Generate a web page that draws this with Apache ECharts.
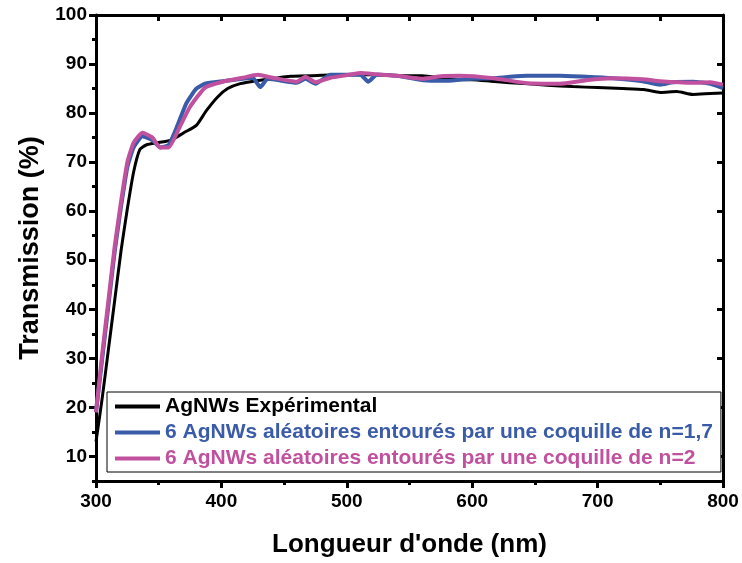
<!DOCTYPE html>
<html>
<head>
<meta charset="utf-8">
<script src="https://cdn.jsdelivr.net/npm/echarts@6/dist/echarts.min.js"></script>
<style>
  html, body { margin: 0; padding: 0; background: #fff; }
  #chart { width: 742px; height: 563px; }
</style>
</head>
<body>
<div id="chart"></div>
<script>
// ---- Data ----
const seriesNames = [
  "AgNWs Expérimental",
  "6 AgNWs aléatoires entourés par une coquille de n=1,7",
  "6 AgNWs aléatoires entourés par une coquille de n=2"
];

const wlExp = [300, 305, 310, 315, 320, 325, 330, 335, 340, 350, 360, 370, 380, 388, 397, 405, 415, 428, 440, 455, 480, 500, 520, 540, 560, 580, 600, 615, 630, 645, 660, 680, 700, 720, 737, 750, 763, 776, 790, 800];
const trExp = [13, 22, 32, 42, 52, 60.5, 68, 72.6, 73.5, 74, 74.5, 76, 77.5, 80.5, 83.3, 85, 86, 86.6, 87, 87.5, 87.7, 87.8, 87.8, 87.6, 87.6, 87.0, 86.8, 86.5, 86.2, 86.0, 85.7, 85.4, 85.2, 85.0, 84.8, 84.2, 84.4, 83.8, 84.0, 84.1];

const wlN17 = [300, 305, 310, 315, 320, 325, 330, 337, 345, 351, 358, 365, 372, 380, 387, 401, 417, 425, 431, 437, 460, 467, 475, 487, 502, 511, 517, 524, 540, 561, 580, 600, 617, 630, 644, 670, 691, 712, 736, 750, 760, 776, 790, 800];
const trN17 = [19, 30, 41, 52, 61, 69, 73, 75.3, 74.5, 73, 73.5, 77.5, 82, 85, 86, 86.5, 87.0, 87.2, 85.3, 87.0, 86.2, 87.0, 86.0, 87.8, 87.8, 87.8, 86.4, 87.8, 87.6, 86.7, 86.6, 87.0, 87.1, 87.4, 87.6, 87.6, 87.4, 87.1, 86.5, 85.8, 86.3, 86.4, 86.0, 85.1];

const wlN2 = [300, 305, 310, 315, 320, 325, 330, 337, 345, 351, 358, 367, 375, 387, 401, 417, 429, 441, 460, 467, 475, 487, 502, 511, 524, 540, 561, 575, 590, 617, 644, 670, 691, 712, 736, 750, 776, 790, 800];
const trN2 = [19, 31, 42, 53, 62, 70, 74, 76, 75, 73, 73, 77.3, 81.3, 85.2, 86.4, 87.2, 87.8, 87.2, 86.4, 87.4, 86.3, 87.2, 87.8, 88.2, 87.9, 87.6, 87.0, 87.5, 87.6, 87.1, 86.1, 86.0, 86.7, 87.1, 86.9, 86.5, 86.2, 86.3, 85.8];

const yMajorTicks = [10, 20, 30, 40, 50, 60, 70, 80, 90, 100];
const yMinorTicks = [5, 15, 25, 35, 45, 55, 65, 75, 85, 95];
const yRightTicks = [10, 20, 30, 40, 50, 60, 70, 80, 90];

// ---- Chart ----
const pair = (xs, ys) => xs.map((x, i) => [x, ys[i]]);
const colors = ["#000000", "#3a5ba8", "#c1519e"];
const FONT = "'Liberation Sans', Arial, sans-serif";

const chart = echarts.init(document.getElementById('chart'), null, { renderer: 'canvas' });

const axisLineStyle = { color: '#000', width: 3 };

chart.setOption({
  animation: false,
  backgroundColor: '#fff',
  grid: { left: 96, right: 19, top: 15, bottom: 80, containLabel: false },
  legend: {
    orient: 'vertical',
    left: 107,
    top: 392,
    padding: [4, 8, 3, 8],
    itemGap: 5,
    itemWidth: 45,
    itemHeight: 4,
    icon: 'rect',
    borderColor: '#000',
    borderWidth: 1,
    backgroundColor: '#fff',
    textStyle: { fontFamily: FONT, fontWeight: 'bold', fontSize: 21 },
    data: seriesNames.map((n, i) => ({ name: n, textStyle: { color: colors[i] } }))
  },
  xAxis: [
    {
      type: 'value', position: 'bottom', min: 300, max: 800, interval: 100,
      name: "Longueur d'onde (nm)", nameLocation: 'middle', nameGap: 51,
      nameTextStyle: { fontFamily: FONT, fontWeight: 'bold', fontSize: 26, color: '#000' },
      axisLine: { show: true, onZero: false, lineStyle: axisLineStyle },
      axisTick: { show: true, inside: false, length: 7, lineStyle: { width: 3, color: '#000' } },
      minorTick: { show: true, splitNumber: 2, length: 4, lineStyle: { width: 3, color: '#000' } },
      axisLabel: { fontFamily: FONT, fontWeight: 'bold', fontSize: 19, color: '#000', margin: 11 },
      splitLine: { show: false }, minorSplitLine: { show: false }
    },
    {
      type: 'value', position: 'top', min: 300, max: 800, interval: 50,
      axisLine: { show: true, onZero: false, lineStyle: axisLineStyle },
      axisTick: { show: true, inside: true, length: 6, lineStyle: { width: 3, color: '#000' } },
      axisLabel: { show: false },
      splitLine: { show: false }
    }
  ],
  yAxis: [
    {
      type: 'value', position: 'left', min: 5, max: 100,
      name: 'Transmission (%)', nameLocation: 'middle', nameGap: 52,
      nameTextStyle: { fontFamily: FONT, fontWeight: 'bold', fontSize: 27, color: '#000' },
      axisLine: { show: true, onZero: false, lineStyle: axisLineStyle },
      axisTick: { show: true, inside: false, length: 7, customValues: yMajorTicks, lineStyle: { width: 3, color: '#000' } },
      axisLabel: { fontFamily: FONT, fontWeight: 'bold', fontSize: 19, color: '#000', margin: 9, customValues: yMajorTicks },
      splitLine: { show: false }
    },
    {
      type: 'value', position: 'left', min: 5, max: 100,
      axisLine: { show: false },
      axisTick: { show: true, inside: false, length: 4, customValues: yMinorTicks, lineStyle: { width: 3, color: '#000' } },
      axisLabel: { show: false },
      splitLine: { show: false }
    },
    {
      type: 'value', position: 'right', min: 5, max: 100,
      axisLine: { show: true, onZero: false, lineStyle: axisLineStyle },
      axisTick: { show: true, inside: true, length: 6, customValues: yRightTicks, lineStyle: { width: 3, color: '#000' } },
      axisLabel: { show: false },
      splitLine: { show: false }
    }
  ],
  series: [
    { name: seriesNames[0], type: 'line', data: pair(wlExp, trExp), showSymbol: false, symbol: 'none',
      lineStyle: { color: colors[0], width: 3 }, itemStyle: { color: colors[0] }, smooth: 0.2, z: 2 },
    { name: seriesNames[1], type: 'line', data: pair(wlN17, trN17), showSymbol: false, symbol: 'none',
      lineStyle: { color: colors[1], width: 4 }, itemStyle: { color: colors[1] }, smooth: 0.15, z: 3 },
    { name: seriesNames[2], type: 'line', data: pair(wlN2, trN2), showSymbol: false, symbol: 'none',
      lineStyle: { color: colors[2], width: 4 }, itemStyle: { color: colors[2] }, smooth: 0.15, z: 4 }
  ]
});
</script>
</body>
</html>
